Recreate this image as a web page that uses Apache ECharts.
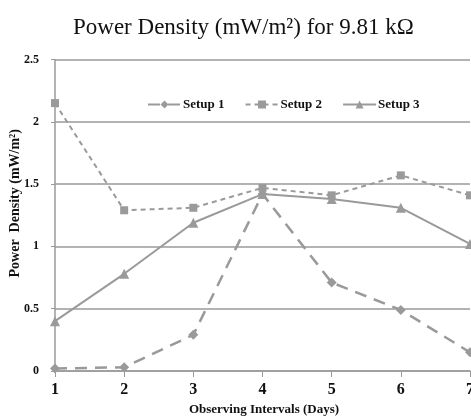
<!DOCTYPE html>
<html>
<head>
<meta charset="utf-8">
<script src="https://cdn.jsdelivr.net/npm/echarts@6/dist/echarts.min.js"></script>
<style>
  html, body { margin: 0; padding: 0; background: #fff; }
  #chart { width: 471px; height: 418px; }
</style>
</head>
<body>
<div id="chart"></div>
<script>
// Observation days and power density readings (mW/m²) at 9.81 kΩ
const days = ['1', '2', '3', '4', '5', '6', '7'];
const setup1 = [0.02, 0.03, 0.29, 1.42, 0.71, 0.49, 0.15];
const setup2 = [2.15, 1.29, 1.31, 1.47, 1.41, 1.57, 1.41];
const setup3 = [0.40, 0.78, 1.19, 1.42, 1.38, 1.31, 1.02];
const yTicks = [0, 0.5, 1, 1.5, 2, 2.5];

const serif = '"Liberation Serif", "Times New Roman", serif';
const grey = '#9a9a9a';

const chart = echarts.init(document.getElementById('chart'), null, { renderer: 'canvas' });

function lineSeries(name, data, symbol, size, dash, width) {
  return {
    name: name,
    type: 'line',
    data: data,
    symbol: symbol,
    symbolSize: size,
    showAllSymbol: true,
    lineStyle: { color: grey, width: width, type: dash },
    itemStyle: { color: grey },
    emphasis: { disabled: true },
    animation: false
  };
}

chart.setOption({
  animation: false,
  backgroundColor: '#fff',
  title: {
    text: 'Power Density (mW/m²) for 9.81 kΩ',
    left: 68,
    top: 11,
    textStyle: { fontFamily: serif, fontWeight: 'normal', fontSize: 23, color: '#111' }
  },
  legend: {
    data: ['Setup 1', 'Setup 2', 'Setup 3'],
    left: 142,
    top: 93,
    itemWidth: 33,
    itemHeight: 10,
    itemGap: 20,
    textStyle: { fontFamily: serif, fontWeight: 'bold', fontSize: 13, color: '#111', padding: [0, 0, 0, -3] }
  },
  grid: { left: 55, right: 1, top: 59.5, bottom: 47, outerBoundsMode: 'none', containLabel: false },
  xAxis: {
    type: 'category',
    data: days,
    boundaryGap: false,
    name: 'Observing Intervals (Days)',
    nameLocation: 'middle',
    nameGap: 32,
    nameMoveOverlap: false,
    nameTextStyle: { fontFamily: serif, fontWeight: 'bold', fontSize: 13, color: '#111', padding: [0, 0, 0, 3] },
    axisLine: { lineStyle: { color: grey, width: 1.5 } },
    axisTick: { show: true, length: 6, lineStyle: { color: grey } },
    axisLabel: { fontFamily: serif, fontWeight: 'bold', fontSize: 16, color: '#111', margin: 11, hideOverlap: false },
    splitLine: { show: false }
  },
  yAxis: {
    type: 'value',
    min: yTicks[0],
    max: yTicks[yTicks.length - 1],
    interval: 0.5,
    name: 'Power  Density (mW/m²)',
    nameLocation: 'middle',
    nameGap: 33,
    nameRotate: 90,
    nameMoveOverlap: false,
    nameTextStyle: { fontFamily: serif, fontWeight: 'bold', fontSize: 14, color: '#111', padding: [0, 0, 0, 24] },
    axisLine: { show: true, lineStyle: { color: grey, width: 1.5 } },
    axisTick: { show: true, length: 4, lineStyle: { color: grey } },
    axisLabel: { fontFamily: serif, fontWeight: 'bold', fontSize: 12, color: '#111', margin: 16 },
    splitLine: { show: true, lineStyle: { color: grey, width: 1.5 } }
  },
  series: [
    lineSeries('Setup 1', setup1, 'diamond', 10, [12, 8], 2.5),
    lineSeries('Setup 2', setup2, 'rect', 8, [5, 4], 2),
    lineSeries('Setup 3', setup3, 'triangle', 10, 'solid', 2)
  ]
});
</script>
</body>
</html>
